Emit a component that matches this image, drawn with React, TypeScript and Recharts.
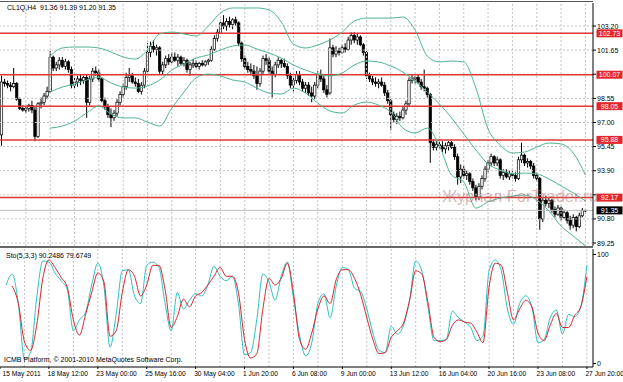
import React from "react";
import { ComposedChart, Bar, Line, XAxis, YAxis, ReferenceLine } from "recharts";

// CL1Q H4 bars, [open, high, low, close], 15 May - 27 Jun 2011
const candles: number[][] = [
  [96.2, 100.0, 95.5, 99.6], [99.6, 99.8, 99.3, 99.5], [99.5, 99.7, 99.2, 99.4], [99.4, 99.6, 99.0, 99.3],
  [99.3, 100.5, 99.2, 99.5], [99.5, 99.6, 98.4, 98.5], [98.5, 98.6, 97.8, 97.9], [97.9, 98.1, 97.7, 97.8],
  [97.8, 98.0, 97.6, 97.9], [97.9, 98.2, 97.7, 98.1], [98.1, 98.4, 97.6, 97.8], [97.8, 98.0, 95.8, 96.1],
  [96.1, 98.3, 96.0, 98.2], [98.2, 98.6, 97.9, 98.3], [98.3, 98.9, 98.1, 98.7], [98.7, 99.3, 98.5, 99.0],
  [99.0, 101.6, 98.9, 101.2], [101.2, 101.3, 100.3, 100.5], [100.5, 100.9, 100.3, 100.7], [100.7, 101.2, 100.4, 101.0],
  [101.0, 101.2, 100.5, 100.6], [100.6, 101.1, 100.4, 100.9], [100.9, 101.0, 100.2, 100.4], [100.4, 100.6, 99.2, 99.4],
  [99.4, 99.9, 99.1, 99.6], [99.6, 100.0, 99.3, 99.8], [99.8, 100.1, 99.4, 99.7], [99.7, 100.0, 99.5, 99.9],
  [99.9, 100.1, 97.3, 98.3], [98.3, 100.0, 98.1, 99.8], [99.8, 100.5, 99.6, 100.3], [100.3, 100.6, 100.0, 100.2],
  [100.2, 100.4, 99.6, 99.8], [99.8, 99.9, 98.3, 98.4], [98.4, 98.6, 97.8, 98.0], [98.0, 98.2, 97.3, 97.5],
  [97.5, 97.9, 96.7, 97.3], [97.3, 97.8, 97.1, 97.6], [97.6, 98.5, 97.4, 98.3], [98.3, 99.0, 98.1, 98.8],
  [98.8, 99.5, 98.6, 99.3], [99.3, 100.2, 99.1, 99.9], [99.9, 100.5, 99.6, 100.0], [100.0, 100.2, 99.5, 99.6],
  [99.6, 99.9, 99.3, 99.5], [99.5, 99.8, 98.9, 99.0], [99.0, 99.6, 98.8, 99.4], [99.4, 100.5, 99.2, 100.3],
  [100.3, 102.1, 100.2, 101.5], [101.5, 102.2, 101.2, 101.9], [101.9, 102.3, 101.5, 101.7], [101.7, 102.0, 101.3, 101.8],
  [101.8, 101.9, 100.1, 100.3], [100.3, 100.9, 100.1, 100.7], [100.7, 101.3, 100.5, 101.1], [101.1, 101.4, 100.7, 100.9],
  [100.9, 101.5, 100.8, 101.2], [101.2, 101.5, 100.9, 101.0], [101.0, 101.4, 100.6, 101.2], [101.2, 101.3, 100.7, 100.8],
  [100.8, 101.2, 100.6, 101.0], [101.0, 101.1, 100.2, 100.4], [100.4, 100.9, 100.0, 100.7], [100.7, 101.1, 100.5, 100.8],
  [100.8, 101.0, 100.5, 100.6], [100.6, 100.9, 100.4, 100.8], [100.8, 101.0, 100.6, 100.7], [100.7, 101.0, 100.6, 100.9],
  [100.9, 101.1, 100.7, 101.0], [101.0, 101.9, 100.9, 101.7], [101.7, 102.6, 101.6, 102.4], [102.4, 103.0, 102.2, 102.8],
  [102.8, 103.6, 102.7, 103.4], [103.4, 103.9, 103.0, 103.2], [103.2, 103.7, 102.9, 103.5], [103.5, 103.8, 103.1, 103.3],
  [103.3, 103.7, 103.0, 103.6], [103.6, 103.8, 103.2, 103.4], [103.4, 103.5, 101.9, 102.1], [102.1, 102.2, 100.9, 101.1],
  [101.1, 101.3, 100.4, 100.6], [100.6, 100.9, 100.2, 100.4], [100.4, 100.8, 100.1, 100.3], [100.3, 100.7, 99.8, 100.0],
  [100.0, 100.6, 99.1, 99.5], [99.5, 100.5, 99.3, 100.3], [100.3, 101.3, 100.1, 101.1], [101.1, 101.4, 100.7, 101.0],
  [101.0, 101.2, 100.1, 100.3], [100.3, 100.6, 98.6, 100.1], [100.1, 100.9, 99.9, 100.7], [100.7, 101.2, 100.5, 101.0],
  [101.0, 101.1, 100.5, 100.8], [100.8, 101.1, 100.5, 100.6], [100.6, 100.8, 99.8, 100.0], [100.0, 100.2, 99.2, 99.4],
  [99.4, 99.9, 99.0, 99.7], [99.7, 100.3, 99.5, 100.1], [100.1, 100.3, 99.4, 99.6], [99.6, 99.8, 99.0, 99.2],
  [99.2, 99.6, 98.9, 99.4], [99.4, 99.6, 98.7, 98.9], [98.9, 99.3, 98.3, 98.7], [98.7, 99.6, 98.5, 99.4],
  [99.4, 100.3, 99.2, 100.1], [100.1, 100.4, 99.6, 99.8], [99.8, 100.0, 98.9, 99.1], [99.1, 99.4, 98.6, 98.8],
  [98.9, 102.4, 98.8, 101.8], [101.8, 102.0, 101.2, 101.4], [101.4, 101.9, 101.2, 101.6], [101.6, 101.8, 101.3, 101.5],
  [101.5, 102.0, 101.4, 101.8], [101.8, 102.1, 101.5, 101.7], [101.7, 102.5, 101.6, 102.3], [102.3, 102.8, 102.0, 102.6],
  [102.6, 102.8, 102.1, 102.3], [102.3, 102.7, 102.0, 102.5], [102.5, 102.6, 101.9, 102.0], [102.0, 102.1, 101.3, 101.5],
  [101.5, 101.6, 99.8, 100.0], [100.0, 100.2, 99.6, 99.8], [99.8, 100.0, 99.4, 99.6], [99.6, 99.9, 99.3, 99.5],
  [99.5, 99.8, 99.2, 99.6], [99.6, 99.9, 99.3, 99.4], [99.4, 99.6, 98.7, 98.9], [98.9, 99.1, 98.2, 98.4],
  [98.4, 98.5, 96.5, 97.5], [97.5, 97.7, 97.0, 97.2], [97.2, 97.6, 96.9, 97.4], [97.4, 97.7, 97.1, 97.3],
  [97.3, 98.0, 97.2, 97.8], [97.8, 98.4, 97.5, 98.2], [98.2, 99.9, 98.0, 99.7], [99.7, 100.1, 99.5, 99.8],
  [99.8, 100.0, 99.5, 99.9], [99.9, 100.1, 99.5, 99.6], [99.6, 99.8, 99.1, 99.3], [99.3, 100.4, 99.0, 99.2],
  [99.2, 99.3, 98.6, 98.8], [98.8, 98.9, 94.4, 95.7], [95.7, 95.9, 95.2, 95.4], [95.4, 95.8, 95.2, 95.6],
  [95.6, 95.9, 95.3, 95.5], [95.5, 95.8, 95.1, 95.3], [95.3, 95.7, 95.0, 95.5], [95.5, 95.8, 95.2, 95.7],
  [95.7, 95.8, 95.3, 95.4], [95.4, 95.6, 94.6, 94.8], [94.8, 95.0, 93.0, 93.5], [93.5, 94.3, 93.1, 94.0],
  [94.0, 94.2, 93.4, 93.6], [93.6, 93.9, 93.3, 93.7], [93.7, 93.8, 93.0, 93.2], [93.2, 93.4, 92.6, 92.8],
  [92.8, 93.0, 92.0, 92.2], [92.2, 93.1, 92.0, 92.9], [92.9, 93.6, 92.7, 93.4], [93.4, 94.2, 93.2, 94.0],
  [94.0, 94.6, 93.8, 94.4], [94.4, 95.0, 94.2, 94.8], [94.8, 94.9, 94.2, 94.4], [94.4, 94.8, 94.2, 94.6],
  [94.6, 94.7, 93.4, 93.6], [93.6, 94.0, 93.3, 93.8], [93.8, 94.0, 93.4, 93.5], [93.5, 93.9, 93.3, 93.7],
  [93.7, 93.9, 93.4, 93.6], [93.6, 93.8, 93.2, 93.4], [93.4, 94.8, 93.3, 94.6], [94.6, 95.7, 94.4, 94.9],
  [94.9, 95.0, 94.2, 94.4], [94.4, 94.7, 94.1, 94.5], [94.5, 94.6, 94.0, 94.2], [94.2, 94.4, 93.4, 93.6],
  [93.6, 93.8, 93.2, 93.4], [93.4, 93.5, 90.1, 90.8], [90.8, 92.2, 90.6, 92.0], [92.0, 92.3, 91.6, 91.8],
  [91.8, 92.2, 91.5, 92.0], [92.0, 92.1, 91.2, 91.4], [91.4, 91.6, 90.9, 91.1], [91.1, 91.7, 91.0, 91.5],
  [91.5, 91.6, 90.7, 90.9], [90.9, 91.4, 90.8, 91.2], [91.2, 91.3, 90.5, 90.7], [90.7, 91.0, 90.1, 90.4],
  [90.4, 91.1, 90.2, 90.9], [90.9, 91.0, 90.0, 90.3], [90.3, 91.2, 90.2, 91.0], [91.0, 91.5, 90.9, 91.36],
  [91.36, 91.39, 91.2, 91.35],
];

// Bollinger bands (20), read every 4th bar from bar 16
const bandStart = 16;
const bandStep = 4;
const bbUpper = [
  101.27, 101.79, 101.85, 101.85, 101.79, 101.53, 101.21, 101.08, 101.66, 102.69, 102.81, 102.69,
  102.56, 103.2, 104.04, 104.36, 104.36, 104.36, 104.23, 103.46, 102.04, 101.79, 101.98, 102.3,
  102.81, 103.52, 103.71, 103.71, 103.71, 103.78, 102.94, 101.27, 100.89, 100.95, 100.89, 99.21,
  96.58, 95.55, 95.04, 95.1, 95.42, 95.68, 95.62, 95.04, 93.62,
];
const bbMiddle = [
  98.96, 99.28, 99.47, 99.73, 99.92, 99.54, 99.28, 99.21, 99.34, 99.73, 100.37, 100.76,
  101.14, 101.34, 101.66, 101.91, 101.98, 101.72, 101.46, 101.14, 100.69, 100.37, 100.11, 99.99,
  100.18, 100.69, 100.95, 100.89, 100.63, 100.24, 99.66, 98.96, 98.19, 97.29, 96.26, 95.23,
  94.33, 93.94, 93.69, 93.75, 93.69, 93.37, 92.92, 92.47, 91.95,
];
const bbLower = [
  96.64, 96.77, 97.09, 97.61, 98.06, 97.54, 97.29, 97.29, 97.03, 96.77, 97.93, 98.96,
  99.86, 100.11, 99.99, 99.73, 99.6, 99.21, 98.89, 98.83, 99.21, 98.89, 98.25, 97.74,
  97.61, 98.12, 98.31, 98.12, 97.67, 96.64, 96.32, 96.64, 95.49, 93.62, 93.17, 91.5,
  91.89, 92.14, 92.27, 92.34, 92.02, 91.31, 90.35, 89.7, 89.06,
];

// Stochastic (5,3,3), read every 2nd bar from bar 0
const stochStep = 2;
const stochK: (number | null)[] = [
  null, 72, 82, 55, 4, 10, 60, 94, 93, 83,
  76, 68, 30, 40, 47, 72, 92, 71, 15, 45,
  85, 86, 62, 55, 90, 93, 88, 55, 30, 65,
  50, 58, 64, 62, 72, 89, 80, 76, 80, 55,
  8, 10, 40, 82, 75, 58, 80, 93, 60, 26,
  7, 19, 55, 64, 42, 71, 88, 86, 69, 66,
  50, 28, 12, 10, 34, 27, 35, 58, 94, 85,
  52, 21, 21, 22, 48, 42, 38, 33, 21, 25,
  85, 95, 85, 50, 36, 55, 62, 52, 19, 22,
  42, 49, 27, 45, 43, 52, 90.25,
];
const stochD: (number | null)[] = [
  null, null, 71, 55, 20, 12, 35, 78, 95, 88,
  79, 70, 40, 26, 45, 65, 83, 75, 25, 30,
  65, 86, 80, 62, 72, 90, 90, 68, 33, 43,
  59, 52, 62, 65, 72, 80, 88, 80, 80, 65,
  22, 5, 9, 50, 78, 72, 78, 92, 65, 22,
  13, 28, 50, 62, 55, 77, 86, 86, 78, 63,
  42, 22, 9, 10, 24, 30, 37, 58, 85, 82,
  56, 24, 20, 22, 35, 40, 38, 37, 29, 19,
  70, 92, 90, 65, 40, 50, 58, 52, 28, 21,
  35, 46, 33, 33, 44, 52, 79.67,
];

const levels = [102.73, 100.07, 98.05, 95.88, 92.17];
const lastPrice = 91.35;
const priceTicks = [103.2, 101.65, 100.1, 98.55, 97.0, 95.45, 93.9, 92.35, 90.8, 89.25];
const coveredTicks = [100.1, 92.35];
const timeTicks = [0, 16, 32, 48, 64, 80, 96, 112, 128, 144, 160, 176, 192];
const timeLabels = [
  "15 May 2011", "18 May 12:00", "23 May 00:00", "25 May 16:00", "30 May 04:00", "1 Jun 20:00",
  "6 Jun 08:00", "9 Jun 00:00", "13 Jun 12:00", "16 Jun 04:00", "20 Jun 16:00", "23 Jun 08:00", "27 Jun 20:00",
];
const gridBars = [8, 16, 24, 32, 40, 48, 56, 64, 72, 80, 88, 96, 104, 112, 120, 128, 136, 144, 152, 160, 168, 176, 184, 192];

const FONT = "'Liberation Sans', Arial, sans-serif";
const GRID = "#c4c4c4";

const rows = Array.from({ length: candles.length + 2 }, (_, i) => {
  const c = candles[i];
  const b = (i - bandStart) / bandStep;
  const s = i / stochStep;
  const inBand = i >= bandStart && Number.isInteger(b) && b < bbUpper.length;
  const inSto = Number.isInteger(s) && s < stochK.length;
  return {
    i,
    o: c ? c[0] : null,
    h: c ? c[1] : null,
    l: c ? c[2] : null,
    c: c ? c[3] : null,
    range: c ? [c[2], c[1]] : null,
    up: inBand ? bbUpper[b] : null,
    mid: inBand ? bbMiddle[b] : null,
    low: inBand ? bbLower[b] : null,
    k: inSto ? stochK[s] : null,
    d: inSto ? stochD[s] : null,
  };
});

function Candle(props: any) {
  const { x, y, width, height, payload } = props;
  if (!payload || payload.o == null) return null;
  const { o, h, l, c } = payload;
  const top = Math.min(y, y + height);
  const hgt = Math.abs(height);
  const cx = x + width / 2;
  const py = (v: number) => top + ((h - v) / (h - l)) * hgt;
  const bTop = py(Math.max(o, c));
  const bBot = py(Math.min(o, c));
  const bull = c >= o;
  return (
    <g>
      <line x1={cx} x2={cx} y1={top} y2={top + hgt} stroke="#000" strokeWidth={1} />
      <rect
        x={cx - 1.2}
        y={bTop}
        width={2.4}
        height={Math.max(bBot - bTop, 0.8)}
        fill={bull ? "#fff" : "#000"}
        stroke="#000"
        strokeWidth={0.7}
      />
    </g>
  );
}

const tag = (text: string, bg: string) => (props: any) => {
  const vb = props.viewBox;
  if (!vb) return null;
  const x = vb.x + vb.width + 3.5;
  return (
    <g>
      <rect x={x} y={vb.y - 4} width={26} height={8} fill={bg} />
      <text x={x + 13} y={vb.y + 2.5} textAnchor="middle" fontSize={7} fontFamily={FONT} fill="#fff">
        {text}
      </text>
    </g>
  );
};

function PriceTick(props: any) {
  const { x, y, payload } = props;
  if (coveredTicks.includes(payload.value)) return null;
  return (
    <text x={x} y={y + 2.5} fontSize={7} fontFamily={FONT} fill="#000">
      {payload.value.toFixed(2)}
    </text>
  );
}

function StoTick(props: any) {
  const { x, y, payload } = props;
  return (
    <text x={x} y={y + 2.5} fontSize={7} fontFamily={FONT} fill="#000">
      {payload.value}
    </text>
  );
}

function TimeTick(props: any) {
  const { x, y, payload } = props;
  const idx = timeTicks.indexOf(payload.value);
  return (
    <text x={Math.max(x - 1.5, 2.5)} y={y + 6} fontSize={6.7} fontFamily={FONT} fill="#000">
      {timeLabels[idx]}
    </text>
  );
}

const textStyle: React.CSSProperties = {
  position: "absolute",
  fontFamily: FONT,
  fontSize: 7,
  color: "#000",
  whiteSpace: "nowrap",
  lineHeight: "8px",
};

export default function App() {
  return (
    <div style={{ position: "absolute", left: 0, top: 0, width: 623, height: 382, background: "#fff", overflow: "hidden" }}>
      <div style={{ position: "absolute", left: 0, top: 0 }}>
        <ComposedChart width={623} height={247} data={rows} margin={{ top: 3, right: 0, bottom: 1, left: 0 }} barCategoryGap={0}>
          <XAxis dataKey="i" type="category" hide />
          <YAxis
            orientation="right"
            width={30}
            domain={[89.06, 104.68]}
            allowDataOverflow
            ticks={priceTicks}
            interval={0}
            tick={<PriceTick />}
            tickSize={3}
            tickMargin={1}
            axisLine={{ stroke: "#000" }}
            tickLine={{ stroke: "#000" }}
          />
          {priceTicks.map((v) => (
            <ReferenceLine key={"h" + v} y={v} stroke={GRID} strokeDasharray="2 2" />
          ))}
          {gridBars.map((b) => (
            <ReferenceLine key={"v" + b} x={b} stroke={GRID} strokeDasharray="2 2" />
          ))}
          <ReferenceLine y={lastPrice} stroke="#bdbdbd" label={tag(lastPrice.toFixed(2), "#000")} />
          {levels.map((v) => (
            <ReferenceLine key={"r" + v} y={v} stroke="#e03636" strokeWidth={1.5} label={tag(v.toFixed(2), "#e2262b")} />
          ))}
          <Bar dataKey="range" shape={<Candle />} isAnimationActive={false} />
          <Line type="monotone" dataKey="up" stroke="#4fb48e" strokeWidth={1} dot={false} connectNulls isAnimationActive={false} />
          <Line type="monotone" dataKey="mid" stroke="#4fb48e" strokeWidth={1} dot={false} connectNulls isAnimationActive={false} />
          <Line type="monotone" dataKey="low" stroke="#4fb48e" strokeWidth={1} dot={false} connectNulls isAnimationActive={false} />
        </ComposedChart>
      </div>
      <div style={{ position: "absolute", left: 0, top: 247 }}>
        <ComposedChart width={623} height={135} data={rows} margin={{ top: 2, right: 0, bottom: 0, left: 0 }}>
          <XAxis
            dataKey="i"
            type="category"
            ticks={timeTicks}
            interval={0}
            height={15}
            tick={<TimeTick />}
            tickSize={2}
            tickMargin={1}
            axisLine={{ stroke: "#000" }}
            tickLine={{ stroke: "#000" }}
          />
          <YAxis
            orientation="right"
            width={30}
            domain={[-3.2, 105]}
            allowDataOverflow
            ticks={[0, 100]}
            interval={0}
            tick={<StoTick />}
            tickSize={3}
            tickMargin={1}
            axisLine={{ stroke: "#000" }}
            tickLine={{ stroke: "#000" }}
          />
          {gridBars.map((b) => (
            <ReferenceLine key={"sv" + b} x={b} stroke={GRID} strokeDasharray="2 2" />
          ))}
          <Line type="monotone" dataKey="k" stroke="#2cc0c0" strokeWidth={1} dot={false} connectNulls isAnimationActive={false} />
          <Line type="monotone" dataKey="d" stroke="#d8262c" strokeWidth={1} dot={false} connectNulls isAnimationActive={false} />
        </ComposedChart>
      </div>
      {/* panel frames */}
      <div style={{ position: "absolute", left: 0, top: 1, width: 593, height: 1, background: "#555" }} />
      <div style={{ position: "absolute", left: 0, top: 245.5, width: 593, height: 2, background: "#666" }} />
      <div style={{ ...textStyle, left: 7, top: 4 }}>CL1Q,H4&nbsp; 91.36 91.39 91.20 91.35</div>
      <div style={{ ...textStyle, left: 6, top: 252 }}>Sto(5,3,3) 90.2486 79.6749</div>
      <div style={{ ...textStyle, left: 4, top: 356 }}>ICMB Platform, © 2001-2010 MetaQuotes Software Corp.</div>
      <div
        style={{
          position: "absolute",
          left: 442,
          top: 187,
          fontFamily: FONT,
          fontSize: 16.5,
          lineHeight: "18px",
          color: "rgba(175,115,115,0.5)",
          whiteSpace: "nowrap",
          pointerEvents: "none",
        }}
      >
        Журнал ForTrader.ru
      </div>
    </div>
  );
}
